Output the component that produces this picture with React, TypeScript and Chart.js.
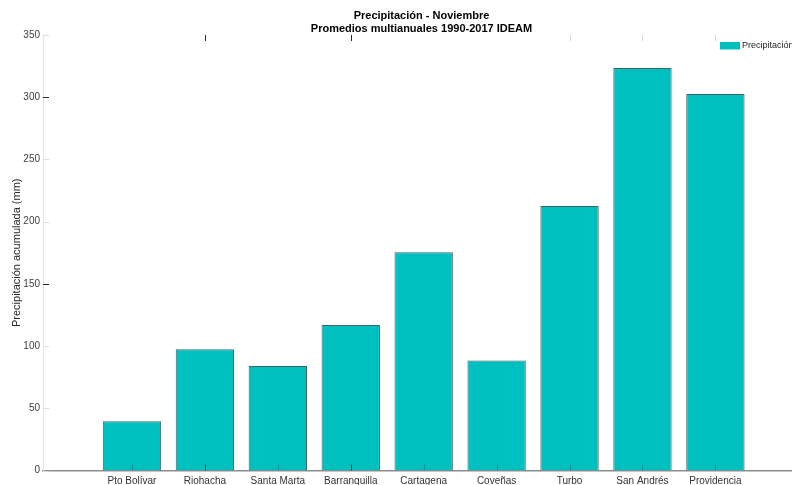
import React, { useEffect, useRef } from "react";
import { Chart, registerables } from "chart.js";

Chart.register(...registerables);

const FONT = '"Liberation Sans", Arial, Helvetica, sans-serif';

const categories = [
  "Pto Bolívar",
  "Riohacha",
  "Santa Marta",
  "Barranquilla",
  "Cartagena",
  "Coveñas",
  "Turbo",
  "San Andrés",
  "Providencia",
];
const precipitation = [39.5, 97.5, 84, 117, 175.5, 88.5, 212.5, 323.5, 302.5];
const titleLines = ["Precipitación - Noviembre", "Promedios multianuales 1990-2017 IDEAM"];
const seriesLabel = "Precipitación";
const yAxisTitle = "Precipitación acumulada (mm)";
const yTicks = [0, 50, 100, 150, 200, 250, 300, 350];
const darkYTicks = [300, 150];
const darkXTicks = [2, 4];
const topLightXTicks = [7, 8, 9];

const BAR_COLOR = "#00BFBF";

const decorPlugin = {
  id: "decor",
  afterDatasetsDraw(chart: any) {
    const { ctx, chartArea, scales } = chart;
    const xs = scales.x;
    const ys = scales.y;
    ctx.save();
    ctx.lineWidth = 1;
    // y ticks (inward)
    yTicks.forEach((v) => {
      const y = Math.round(ys.getPixelForValue(v)) + 0.5;
      ctx.strokeStyle = darkYTicks.includes(v) ? "#2a2a2a" : "#dcdcdc";
      ctx.beginPath();
      ctx.moveTo(chartArea.left, y);
      ctx.lineTo(chartArea.left + 6, y);
      ctx.stroke();
    });
    // x ticks bottom & top (inward)
    categories.forEach((_, i) => {
      const v = i + 1;
      const x = Math.round(xs.getPixelForValue(v)) + 0.5;
      const dark = darkXTicks.includes(v);
      ctx.strokeStyle = dark ? "#2a2a2a" : "rgba(0,60,60,0.35)";
      ctx.beginPath();
      ctx.moveTo(x, chartArea.bottom);
      ctx.lineTo(x, chartArea.bottom - 6);
      ctx.stroke();
      if (dark || topLightXTicks.includes(v)) {
        ctx.strokeStyle = dark ? "#2a2a2a" : "#d4d4d4";
        ctx.beginPath();
        ctx.moveTo(x, chartArea.top);
        ctx.lineTo(x, chartArea.top + 6);
        ctx.stroke();
      }
    });
    ctx.restore();
  },
  afterDraw(chart: any) {
    const { ctx, chartArea } = chart;
    ctx.save();
    // title
    ctx.fillStyle = "#000";
    ctx.font = `bold 11px ${FONT}`;
    ctx.textAlign = "center";
    ctx.textBaseline = "alphabetic";
    const cx = (chartArea.left + chartArea.right) / 2;
    titleLines.forEach((t, i) => ctx.fillText(t, cx, 18.5 + i * 13.2));
    // legend
    const lx = chartArea.right - 80;
    ctx.fillStyle = BAR_COLOR;
    ctx.fillRect(lx, 42, 20, 7.5);
    ctx.fillStyle = "#262626";
    ctx.font = `9px ${FONT}`;
    ctx.textAlign = "left";
    ctx.textBaseline = "middle";
    ctx.fillText(seriesLabel, lx + 22, 46);
    ctx.restore();
  },
};

export default function App() {
  const ref = useRef<HTMLCanvasElement>(null);

  useEffect(() => {
    if (!ref.current) return;
    Chart.defaults.font.family = FONT;
    const chart = new Chart(ref.current, {
      type: "bar",
      data: {
        datasets: [
          {
            label: seriesLabel,
            data: precipitation.map((y, i) => ({ x: i + 1, y })),
            backgroundColor: BAR_COLOR,
            borderColor: "rgba(0,45,45,0.75)",
            borderWidth: 1,
            barPercentage: 0.8,
            categoryPercentage: 1,
          },
        ],
      },
      options: {
        animation: false,
        responsive: false,
        devicePixelRatio: 1,
        layout: { padding: { top: 35, right: 8, left: 0, bottom: 0 } },
        plugins: {
          legend: { display: false },
          title: { display: false },
          tooltip: { enabled: false },
        },
        scales: {
          x: {
            type: "linear",
            offset: false,
            min: -0.22,
            max: 10.16,
            grid: { display: false, drawTicks: false },
            border: { display: true, color: "#8c8c8c", width: 1.5 },
            afterBuildTicks: (scale: any) => {
              scale.ticks = categories.map((_, i) => ({ value: i + 1 }));
            },
            afterFit: (scale: any) => {
              scale.height = 14.5;
            },
            ticks: {
              autoSkip: false,
              maxRotation: 0,
              padding: 5,
              color: "#333333",
              font: { size: 10, family: FONT },
              callback: (v: any) => categories[Number(v) - 1] ?? "",
            },
          },
          y: {
            min: 0,
            max: 350,
            grid: { display: false, drawTicks: false },
            border: { display: true, color: "#e2e2e2", width: 1 },
            afterFit: (scale: any) => {
              scale.width = 43;
            },
            afterBuildTicks: (scale: any) => {
              scale.ticks = yTicks.map((v) => ({ value: v }));
            },
            ticks: {
              padding: 3,
              color: "#404040",
              font: { size: 10, family: FONT },
            },
            title: {
              display: true,
              text: yAxisTitle,
              color: "#262626",
              font: { size: 11, family: FONT },
              padding: { top: 10, bottom: 0 },
            },
          },
        },
      },
      plugins: [decorPlugin],
    } as any);
    return () => chart.destroy();
  }, []);

  return (
    <div
      style={{
        position: "fixed",
        left: 0,
        top: 0,
        width: 792,
        height: 485,
        overflow: "hidden",
        background: "#fff",
      }}
    >
      <canvas ref={ref} width={808} height={485} style={{ display: "block" }} />
    </div>
  );
}
